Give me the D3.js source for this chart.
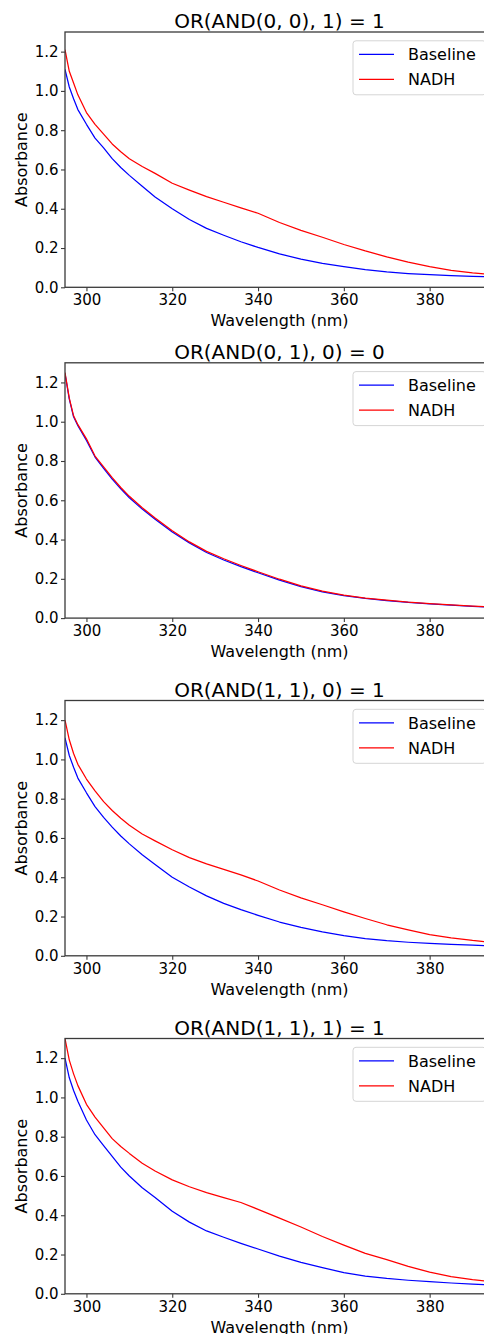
<!DOCTYPE html>
<html>
<head>
<meta charset="utf-8">
<script src="https://cdn.jsdelivr.net/npm/d3@7"></script>
<style>
  html, body { margin: 0; padding: 0; background: #fff; overflow: hidden; }
  svg { display: block; }
  text { font-family: "DejaVu Sans", sans-serif; fill: #000; }
</style>
</head>
<body>
<svg id="fig" width="484" height="1334"></svg>
<script>
// Wavelength grid (nm) shared by every spectrum
const wavelengths = [295, 296, 297, 298, 300, 302, 304, 306, 308, 310, 313, 316, 320, 324, 328,
                     332, 336, 340, 345, 350, 355, 360, 365, 370, 375, 380, 385, 390, 395];

// Panel titles (logic gate evaluated)
const titles = ["OR(AND(0, 0), 1) = 1", "OR(AND(0, 1), 0) = 0", "OR(AND(1, 1), 0) = 1", "OR(AND(1, 1), 1) = 1"];
const seriesNames = ["Baseline", "NADH"];

// Absorbance spectra, one pair per panel
const baseline1 = [1.11, 1.02, 0.96, 0.905, 0.83, 0.76, 0.71, 0.655, 0.61, 0.57, 0.515, 0.46, 0.40, 0.345, 0.30,
                   0.265, 0.232, 0.203, 0.17, 0.144, 0.122, 0.105, 0.09, 0.078, 0.07, 0.064, 0.06, 0.056, 0.052];
const nadh1     = [1.21, 1.10, 1.04, 0.98, 0.89, 0.83, 0.78, 0.73, 0.69, 0.655, 0.615, 0.58, 0.53, 0.495, 0.462,
                   0.433, 0.404, 0.377, 0.33, 0.29, 0.255, 0.218, 0.185, 0.155, 0.128, 0.105, 0.086, 0.073, 0.064];

const baseline2 = [1.245, 1.115, 1.025, 0.98, 0.905, 0.82, 0.763, 0.708, 0.658, 0.613, 0.555, 0.503, 0.438, 0.383, 0.334,
                   0.296, 0.262, 0.231, 0.193, 0.16, 0.134, 0.114, 0.10, 0.089, 0.08, 0.073, 0.066, 0.06, 0.055];
const nadh2     = [1.25, 1.12, 1.03, 0.985, 0.913, 0.825, 0.77, 0.715, 0.665, 0.62, 0.562, 0.51, 0.445, 0.388, 0.34,
                   0.302, 0.268, 0.236, 0.198, 0.164, 0.137, 0.117, 0.102, 0.091, 0.081, 0.074, 0.067, 0.061, 0.056];

const baseline3 = [1.11, 1.02, 0.96, 0.905, 0.83, 0.76, 0.705, 0.655, 0.61, 0.57, 0.515, 0.465, 0.40, 0.35, 0.305,
                   0.267, 0.235, 0.206, 0.172, 0.145, 0.122, 0.103, 0.088, 0.077, 0.069, 0.063, 0.058, 0.054, 0.05];
const nadh3     = [1.20, 1.10, 1.03, 0.975, 0.90, 0.84, 0.785, 0.74, 0.70, 0.665, 0.62, 0.585, 0.54, 0.50, 0.468,
                   0.44, 0.412, 0.381, 0.335, 0.295, 0.26, 0.224, 0.19, 0.158, 0.132, 0.108, 0.091, 0.078, 0.068];

const baseline4 = [1.20, 1.10, 1.035, 0.98, 0.885, 0.81, 0.755, 0.70, 0.645, 0.60, 0.54, 0.49, 0.42, 0.365, 0.32,
                   0.288, 0.257, 0.228, 0.192, 0.16, 0.133, 0.108, 0.09, 0.078, 0.069, 0.062, 0.055, 0.049, 0.044];
const nadh4     = [1.30, 1.19, 1.12, 1.06, 0.965, 0.90, 0.845, 0.79, 0.75, 0.715, 0.665, 0.625, 0.58, 0.545, 0.515,
                   0.49, 0.465, 0.43, 0.385, 0.34, 0.292, 0.248, 0.206, 0.174, 0.14, 0.11, 0.088, 0.072, 0.06];

const xTicks = [300, 320, 340, 360, 380];
const yTicks = [0.0, 0.2, 0.4, 0.6, 0.8, 1.0, 1.2];

const panels = [
  { title: titles[0], series: [baseline1, nadh1] },
  { title: titles[1], series: [baseline2, nadh2] },
  { title: titles[2], series: [baseline3, nadh3] },
  { title: titles[3], series: [baseline4, nadh4] }
];

// Layout
const panelTops = [32, 362.8, 700.5, 1038.5];
const plotH = 255.3;
const plotLeft = 65, plotRight = 494;
const colors = ["#0000ff", "#ff0000"];
const spineColor = "#3a3a3a";

const svg = d3.select("#fig");

const x = d3.scaleLinear().domain(d3.extent(wavelengths)).range([plotLeft, plotRight]);

panels.forEach((p, i) => {
  const top = panelTops[i];
  const bottom = top + plotH;
  const y = d3.scaleLinear().domain([0, 1.3]).range([bottom, top]);
  const g = svg.append("g");

  const clipId = "clip" + i;
  g.append("clipPath").attr("id", clipId)
    .append("rect").attr("x", plotLeft).attr("y", top).attr("width", plotRight - plotLeft).attr("height", plotH);

  // Spectra
  const line = d3.line().x((d, k) => x(wavelengths[k])).y(d => y(d));
  p.series.forEach((vals, s) => {
    g.append("path")
      .datum(vals)
      .attr("clip-path", `url(#${clipId})`)
      .attr("fill", "none")
      .attr("stroke", colors[s])
      .attr("stroke-width", 1.25)
      .attr("stroke-linejoin", "round")
      .attr("d", line);
  });

  // Axes
  const xAxis = g.append("g").attr("transform", `translate(0,${bottom})`)
    .call(d3.axisBottom(x).tickValues(xTicks).tickFormat(d3.format("d")).tickSize(4).tickSizeOuter(0).tickPadding(3.5));
  const yAxis = g.append("g").attr("transform", `translate(${plotLeft},0)`)
    .call(d3.axisLeft(y).tickValues(yTicks).tickFormat(d3.format(".1f")).tickSize(4).tickSizeOuter(0).tickPadding(2.5));
  [xAxis, yAxis].forEach(a => {
    a.select(".domain").remove();
    a.selectAll(".tick line").attr("stroke", spineColor).attr("stroke-width", 1.1);
    a.selectAll(".tick text").attr("font-size", 15).attr("font-family", "DejaVu Sans").attr("fill", "#000");
  });

  // Frame
  g.append("rect")
    .attr("x", plotLeft).attr("y", top)
    .attr("width", plotRight - plotLeft).attr("height", plotH)
    .attr("fill", "none").attr("stroke", spineColor).attr("stroke-width", 1.3);

  // Title and axis labels
  g.append("text")
    .attr("x", (plotLeft + plotRight) / 2).attr("y", top - 4)
    .attr("text-anchor", "middle").attr("font-size", 20)
    .text(p.title);
  g.append("text")
    .attr("x", (plotLeft + plotRight) / 2).attr("y", bottom + 39)
    .attr("text-anchor", "middle").attr("font-size", 16)
    .text("Wavelength (nm)");
  g.append("text")
    .attr("transform", `translate(27,${(top + bottom) / 2}) rotate(-90)`)
    .attr("text-anchor", "middle").attr("font-size", 16)
    .text("Absorbance");

  // Legend
  const lg = g.append("g").attr("transform", `translate(353,${top + 8.8})`);
  lg.append("rect")
    .attr("x", 0).attr("y", 0).attr("width", 133).attr("height", 54)
    .attr("rx", 3).attr("ry", 3)
    .attr("fill", "#fff").attr("fill-opacity", 0.8)
    .attr("stroke", "#d5d5d5").attr("stroke-width", 1);
  seriesNames.forEach((name, s) => {
    const cy = 13.5 + s * 25;
    lg.append("line")
      .attr("x1", 6).attr("x2", 41).attr("y1", cy).attr("y2", cy)
      .attr("stroke", colors[s]).attr("stroke-width", 1.25);
    lg.append("text")
      .attr("x", 55).attr("y", cy).attr("dy", "0.36em")
      .attr("font-size", 16)
      .text(name);
  });
});
</script>
</body>
</html>
